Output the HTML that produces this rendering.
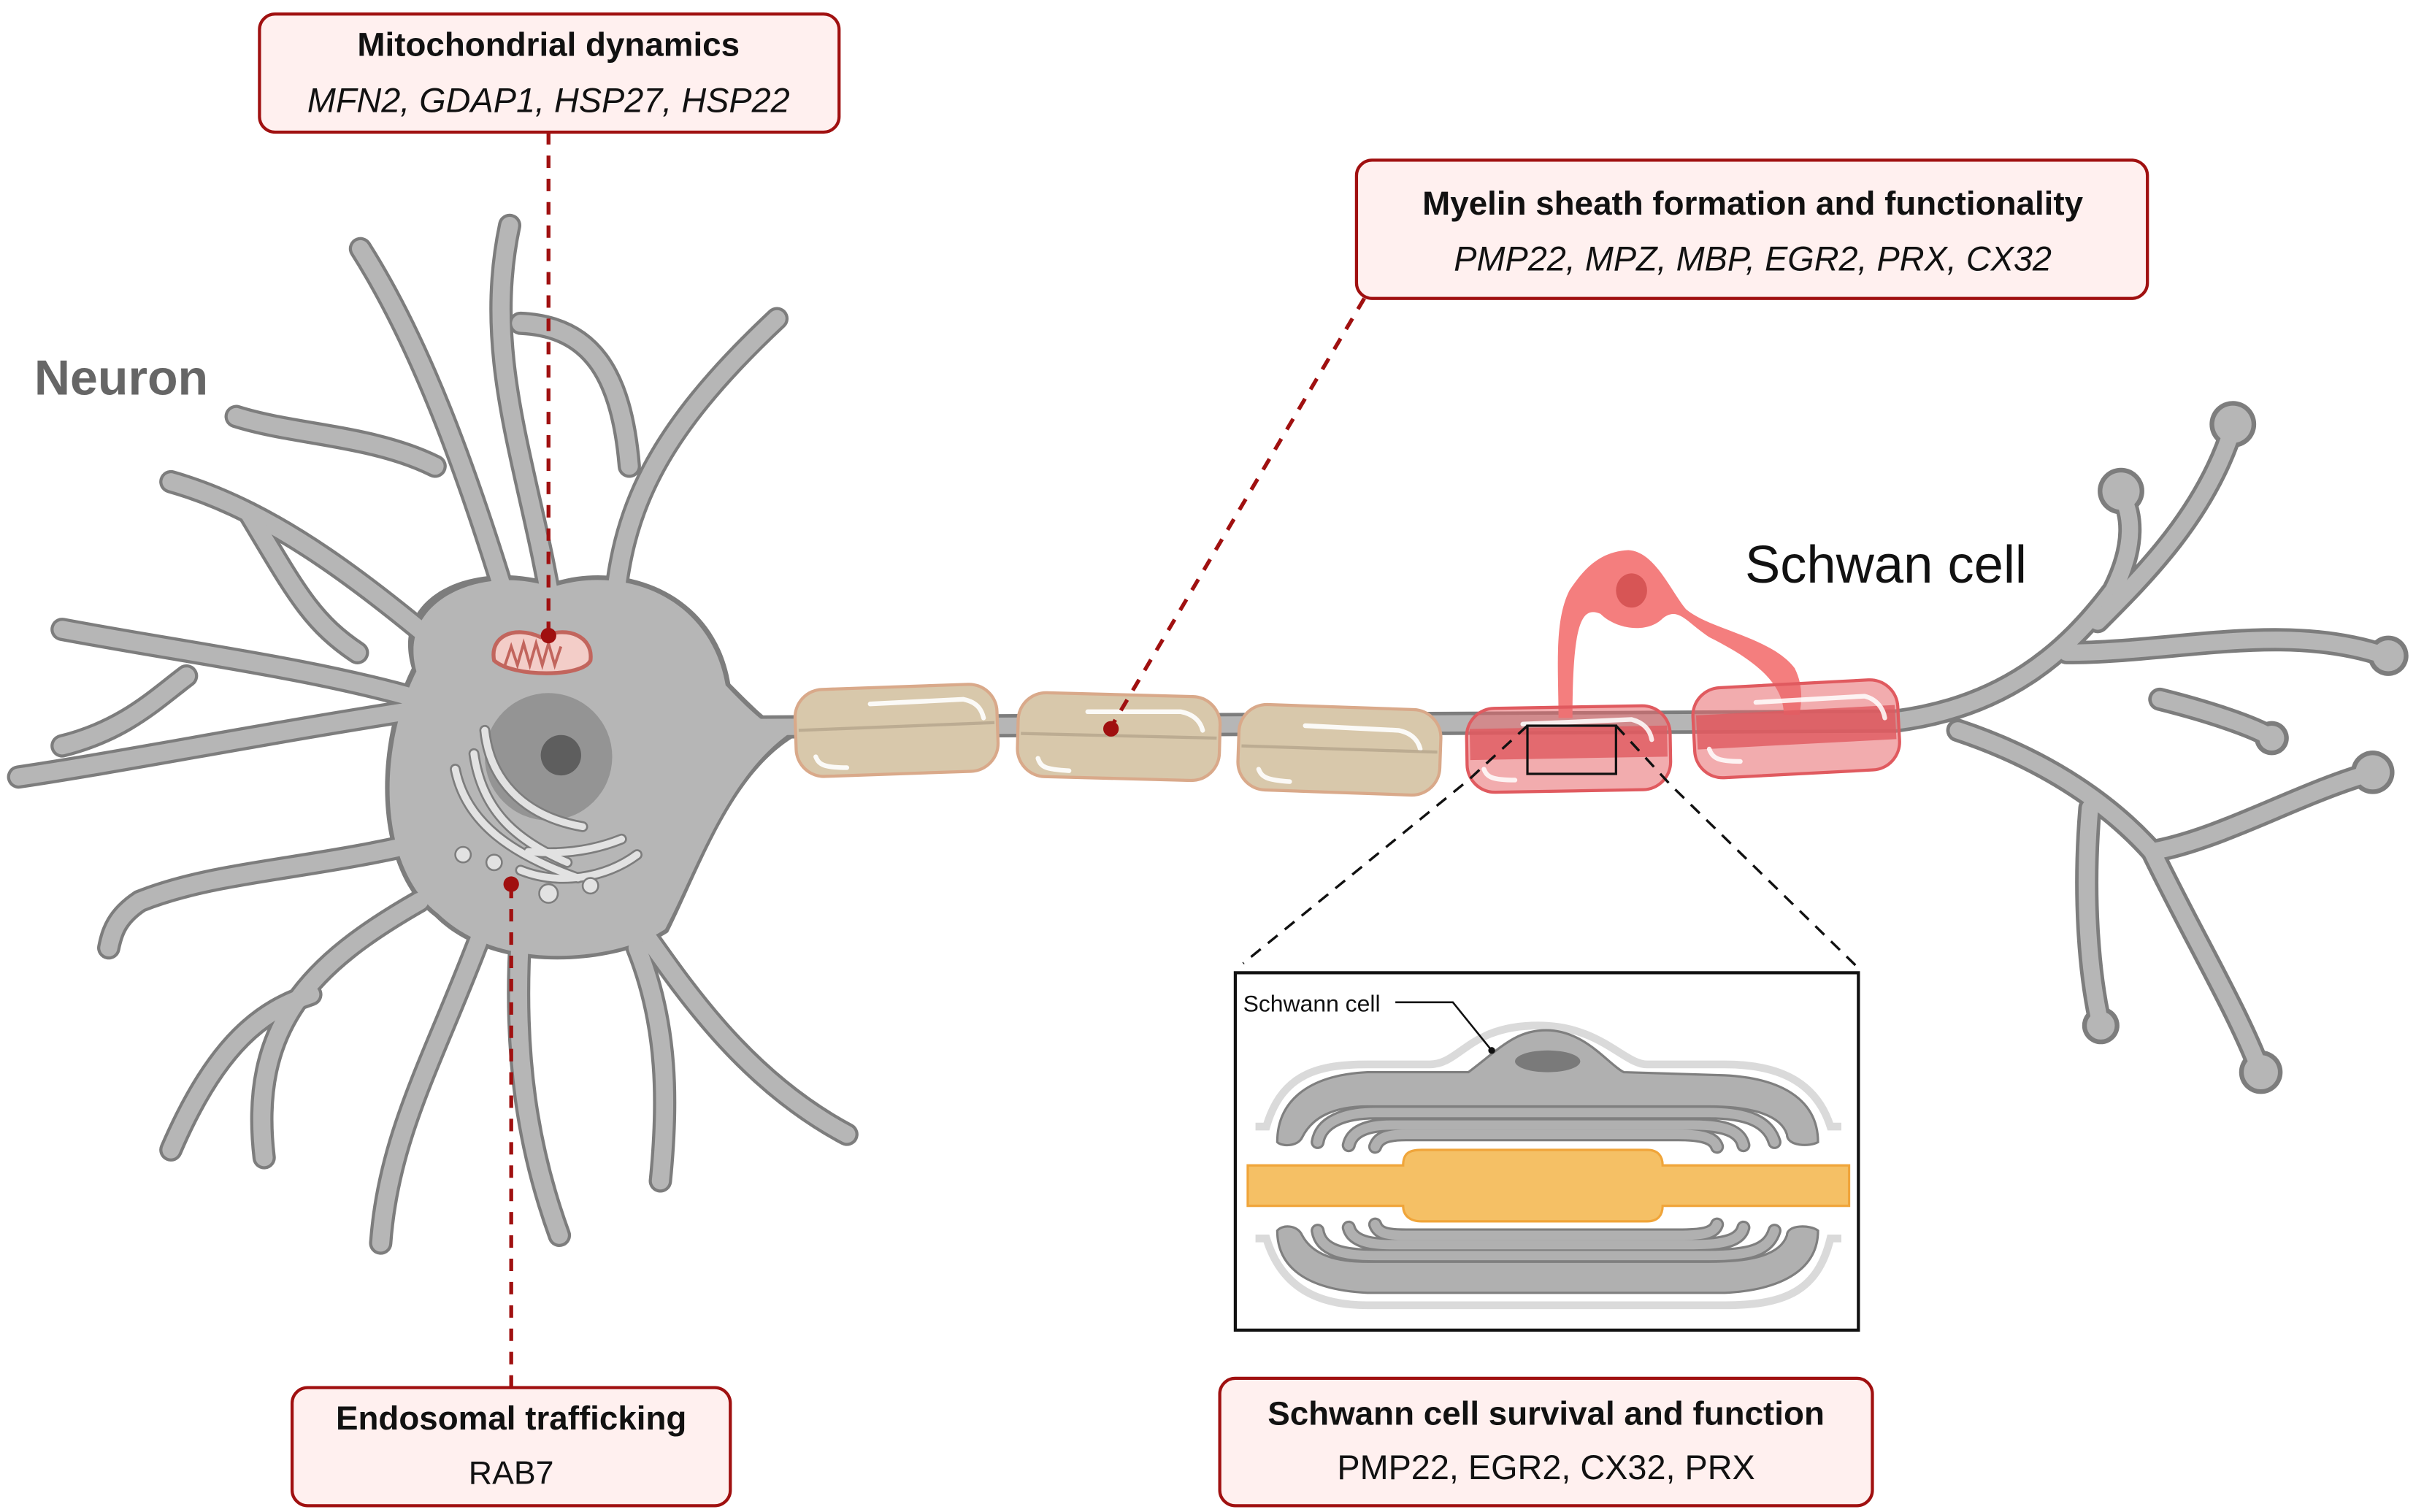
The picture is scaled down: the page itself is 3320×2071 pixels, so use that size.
<!DOCTYPE html>
<html><head><meta charset="utf-8"><style>
html,body{margin:0;padding:0;background:#fff;}
svg{display:block;}
text{font-family:"Liberation Sans",sans-serif;}
</style></head><body>
<svg width="3320" height="2071" viewBox="0 0 1560 973" xmlns="http://www.w3.org/2000/svg">
<defs>
<g id="dend">
<path d="M330,400 C300,300 270,220 232,160"/>
<path d="M280,300 C240,280 190,280 152,268"/>
<path d="M355,390 C340,300 310,230 328,145"/>
<path d="M395,395 C400,330 420,280 500,205"/>
<path d="M405,300 C400,240 380,210 335,208"/>
<path d="M300,430 C240,380 180,330 110,310"/>
<path d="M160,330 C190,380 200,400 230,420"/>
<path d="M270,450 C200,430 120,420 40,405"/>
<path d="M280,455 C180,470 80,490 12,500"/>
<path d="M120,435 C100,450 80,470 40,480"/>
<path d="M280,540 C200,560 140,560 90,580 C75,590 72,600 70,610"/>
<path d="M270,580 C200,620 160,660 170,745"/>
<path d="M200,640 C170,650 140,670 110,740"/>
<path d="M310,600 C280,680 250,730 245,800"/>
<path d="M335,600 C330,680 340,740 360,795"/>
<path d="M400,580 C430,620 470,690 545,730"/>
<path d="M410,610 C430,660 430,710 425,760"/>
</g>
<g id="term">
<path d="M460,468 L1220,464"/>
<path d="M1220,464 C1290,455 1330,420 1360,380 C1375,350 1372,330 1365,318"/>
<path d="M1350,400 C1380,370 1420,330 1437,275"/>
<path d="M1330,420 C1400,420 1470,400 1535,422"/>
<path d="M1390,450 C1430,460 1455,470 1462,475"/>
<path d="M1260,470 C1320,490 1360,520 1385,548 C1430,540 1480,510 1527,497"/>
<path d="M1385,548 C1410,600 1440,650 1455,690"/>
<path d="M1345,520 C1340,580 1345,630 1352,660"/>
</g>
</defs>
<g fill="none" stroke="#7d7d7d" stroke-linecap="round" stroke-width="15"><use href="#dend"/></g>
<g fill="none" stroke="#7d7d7d" stroke-linecap="round" stroke-width="15"><use href="#term"/></g>
<g fill="#7d7d7d">
<circle cx="1437" cy="273" r="15"/><circle cx="1365" cy="316" r="15"/><circle cx="1537" cy="422" r="13"/><circle cx="1527" cy="497" r="14"/><circle cx="1462" cy="475" r="11"/><circle cx="1455" cy="690" r="14"/><circle cx="1352" cy="660" r="12"/>
</g>
<path d="M265,430 C250,380 310,360 355,375 C400,360 460,380 470,440 C490,460 500,470 510,470 L510,475 C470,500 450,560 430,600 C400,620 320,630 280,590 C240,560 240,480 265,430 Z" fill="#7d7d7d"/>
<g fill="none" stroke="#b6b6b6" stroke-linecap="round" stroke-width="11"><use href="#dend"/></g>
<g fill="none" stroke="#b6b6b6" stroke-linecap="round" stroke-width="10.5"><use href="#term"/></g>
<g fill="#b6b6b6">
<circle cx="1437" cy="273" r="12"/><circle cx="1365" cy="316" r="12"/><circle cx="1537" cy="422" r="10"/><circle cx="1527" cy="497" r="11"/><circle cx="1462" cy="475" r="8"/><circle cx="1455" cy="690" r="11"/><circle cx="1352" cy="660" r="9"/>
</g>
<path d="M268,432 C255,385 312,363 355,378 C400,363 457,383 467,441 C487,462 497,470 508,472 C468,500 448,560 428,598 C398,618 322,627 282,588 C243,558 243,482 268,432 Z" fill="#b6b6b6"/>
<circle cx="353" cy="487" r="41" fill="#949494"/>
<circle cx="361" cy="486" r="13" fill="#5e5e5e"/>
<g fill="none" stroke="#7d7d7d" stroke-width="7" stroke-linecap="round">
<path d="M293,495 C300,530 330,550 372,565"/><path d="M305,485 C310,520 330,540 365,555"/><path d="M312,470 C315,500 335,525 375,532"/><path d="M335,560 C360,570 390,565 410,550"/><path d="M340,548 C360,550 380,548 400,540"/>
</g>
<g fill="none" stroke="#e2e2e2" stroke-width="4.5" stroke-linecap="round">
<path d="M293,495 C300,530 330,550 372,565"/><path d="M305,485 C310,520 330,540 365,555"/><path d="M312,470 C315,500 335,525 375,532"/><path d="M335,560 C360,570 390,565 410,550"/><path d="M340,548 C360,550 380,548 400,540"/>
</g>
<g fill="#e2e2e2" stroke="#7d7d7d" stroke-width="1.2"><circle cx="318" cy="555" r="5"/><circle cx="298" cy="550" r="5"/><circle cx="353" cy="575" r="6"/><circle cx="380" cy="570" r="5"/></g>
<path d="M318,425 C315,410 330,402 348,410 C366,402 382,410 380,425 C375,436 330,436 318,425 Z" fill="#f3cdc8" stroke="#c2655d" stroke-width="2.5"/>
<path d="M325,428 l4,-12 l4,12 l4,-14 l4,14 l4,-14 l4,14 l4,-14 l4,14 l4,-12" fill="none" stroke="#c2655d" stroke-width="1.8"/>
<g fill="#d8c8ab" stroke="#d9a98a" stroke-width="2">
<rect x="512" y="442" width="130" height="56" rx="18" transform="rotate(-2 577 470)"/>
<rect x="655" y="447" width="130" height="54" rx="18" transform="rotate(1.5 720 474)"/>
<rect x="797" y="455" width="130" height="55" rx="18" transform="rotate(2 862 482)"/>
</g>
<g fill="none" stroke="#fff" stroke-width="3" stroke-linecap="round" opacity="0.9">
<path d="M560,453 L620,450 C630,452 632,458 633,462"/><path d="M700,458 L760,458 C770,460 773,466 774,470"/><path d="M840,467 L900,470 C910,472 913,478 914,482"/>
<path d="M525,487 C527,492 530,494 545,494"/><path d="M668,488 C670,494 673,495 688,496"/><path d="M810,495 C812,500 815,502 830,503"/>
</g>
<g stroke="#b0a088" stroke-width="2" fill="none" opacity="0.7"><path d="M514,470 L640,465"/><path d="M657,472 L783,475"/><path d="M799,480 L925,484"/></g>
<path d="M1003,462 C1003,430 1000,400 1010,380 C1020,365 1030,355 1048,354 C1065,355 1075,380 1085,392 C1100,405 1140,410 1155,430 C1160,440 1160,450 1158,460 L1148,460 C1148,440 1130,425 1100,410 C1085,400 1080,390 1070,398 C1060,408 1040,405 1030,395 C1018,390 1012,400 1012,462 Z" fill="#f47e7e"/>
<ellipse cx="1050" cy="380" rx="10" ry="11" fill="#d75555"/>
<g fill="#e8676c" fill-opacity="0.55" stroke="#e05a5f" stroke-width="2">
<rect x="944" y="455" width="131" height="54" rx="18" transform="rotate(-1 1010 482)"/>
<rect x="1090" y="440" width="132" height="58" rx="18" transform="rotate(-3 1156 469)"/>
</g>
<g fill="#e05a60" opacity="0.8"><rect x="946" y="468" width="127" height="20" transform="rotate(-1 1010 478)"/><rect x="1092" y="457" width="128" height="22" transform="rotate(-3 1156 468)"/></g>
<g fill="none" stroke="#fff" stroke-width="3" stroke-linecap="round" opacity="0.85">
<path d="M980,466 L1050,463 C1058,465 1062,470 1063,476"/><path d="M1130,452 L1200,448 C1208,450 1212,456 1213,462"/>
<path d="M955,495 C957,500 960,502 975,502"/><path d="M1100,482 C1102,488 1106,490 1120,490"/>
</g>
<rect x="983" y="467" width="57" height="31" fill="none" stroke="#111" stroke-width="1.5"/>
<g stroke="#111" stroke-width="1.6" stroke-dasharray="8,6" fill="none">
<path d="M983,467 L945,502 L800,620"/><path d="M1040,467 L1075,505 L1195,622"/>
</g>
<rect x="795" y="626" width="401" height="230" fill="#fff" stroke="#111" stroke-width="2"/>
<path d="M808,725 L815,725 C825,690 850,685 880,685 L920,685 C940,685 945,660 990,660 C1030,660 1045,685 1060,685 L1110,685 C1150,685 1170,700 1178,725 L1185,725" fill="none" stroke="#dadada" stroke-width="5"/>
<path d="M808,797 L815,797 C825,830 850,840 880,840 L1110,840 C1150,840 1170,830 1178,797 L1185,797" fill="none" stroke="#dadada" stroke-width="5"/>
<path d="M945,690 C965,675 975,663 995,663 C1020,663 1035,685 1045,690 L1110,692 C1150,694 1170,710 1170,735 C1165,738 1150,738 1150,730 C1145,715 1120,712 1100,712 L880,712 C860,712 845,718 838,732 C835,738 825,738 822,735 C822,710 840,692 880,690 Z" fill="#b0b0b0" stroke="#7f7f7f" stroke-width="1.5"/>
<ellipse cx="996" cy="683" rx="21" ry="7" fill="#7a7a7a"/>
<g fill="none" stroke="#7f7f7f" stroke-width="9" stroke-linecap="round"><path d="M848,735 C850,722 865,716 885,716 L1100,716 C1125,716 1138,722 1142,735"/><path d="M868,737 C870,728 880,724 895,724 L1090,724 C1110,724 1120,728 1122,737"/><path d="M885,738 C887,732 893,730 905,730 L1080,730 C1095,730 1103,732 1105,738"/></g>
<g fill="none" stroke="#b0b0b0" stroke-width="6" stroke-linecap="round"><path d="M848,735 C850,722 865,716 885,716 L1100,716 C1125,716 1138,722 1142,735"/><path d="M868,737 C870,728 880,724 895,724 L1090,724 C1110,724 1120,728 1122,737"/><path d="M885,738 C887,732 893,730 905,730 L1080,730 C1095,730 1103,732 1105,738"/></g>
<path d="M822,792 C822,815 840,830 880,832 L1110,832 C1150,830 1170,815 1170,792 C1165,788 1150,788 1150,795 C1145,810 1120,812 1100,812 L880,812 C860,812 845,808 838,795 C835,788 825,788 822,792 Z" fill="#b0b0b0" stroke="#7f7f7f" stroke-width="1.5"/>
<g fill="none" stroke="#7f7f7f" stroke-width="9" stroke-linecap="round"><path d="M848,792 C850,805 865,808 885,808 L1100,808 C1125,808 1138,805 1142,792"/><path d="M868,790 C870,798 880,801 895,801 L1090,801 C1110,801 1120,798 1122,790"/><path d="M885,788 C887,794 893,795 905,795 L1080,795 C1095,795 1103,794 1105,788"/></g>
<g fill="none" stroke="#b0b0b0" stroke-width="6" stroke-linecap="round"><path d="M848,792 C850,805 865,808 885,808 L1100,808 C1125,808 1138,805 1142,792"/><path d="M868,790 C870,798 880,801 895,801 L1090,801 C1110,801 1120,798 1122,790"/><path d="M885,788 C887,794 893,795 905,795 L1080,795 C1095,795 1103,794 1105,788"/></g>
<path d="M803,750 L903,750 C903,742 907,740 915,740 L1060,740 C1067,740 1070,744 1070,750 L1190,750 L1190,776 L1070,776 C1070,782 1067,786 1060,786 L915,786 C907,786 903,782 903,776 L803,776 Z" fill="#f5c065" stroke="#f0a53a" stroke-width="1.5"/>
<text x="800" y="651" font-size="15" fill="#111">Schwann cell</text>
<path d="M898,645 L935,645 L960,676" fill="none" stroke="#111" stroke-width="1.2"/>
<circle cx="960" cy="676" r="2.2" fill="#111"/>
<g stroke="#a01010" stroke-width="2.5" stroke-dasharray="8,7" fill="none">
<path d="M353,85 L353,408"/><path d="M878,192 L715,468"/><path d="M329,893 L329,570"/>
</g>
<g fill="#a01010"><circle cx="353" cy="409" r="5"/><circle cx="715" cy="469" r="5"/><circle cx="329" cy="569" r="5"/></g>
<g fill="#fff0ef" stroke="#a01010" stroke-width="2">
<rect x="167" y="9" width="373" height="76" rx="10"/>
<rect x="873" y="103" width="509" height="89" rx="10"/>
<rect x="188" y="893" width="282" height="76" rx="10"/>
<rect x="785" y="887" width="420" height="82" rx="10"/>
</g>
<g text-anchor="middle" fill="#111">
<text x="353" y="36" font-size="21.5" font-weight="bold">Mitochondrial dynamics</text>
<text x="353" y="72" font-size="22" font-style="italic">MFN2, GDAP1, HSP27, HSP22</text>
<text x="1128" y="138" font-size="21.5" font-weight="bold">Myelin sheath formation and functionality</text>
<text x="1128" y="174" font-size="22" font-style="italic">PMP22, MPZ, MBP, EGR2, PRX, CX32</text>
<text x="329" y="920" font-size="21.5" font-weight="bold">Endosomal trafficking</text>
<text x="329" y="955" font-size="21">RAB7</text>
<text x="995" y="917" font-size="21.5" font-weight="bold">Schwann cell survival and function</text>
<text x="995" y="952" font-size="22">PMP22, EGR2, CX32, PRX</text>
</g>
<text x="22" y="254" font-size="32" font-weight="bold" fill="#666">Neuron</text>
<text x="1123" y="375" font-size="34" fill="#111">Schwan cell</text>
</svg>
</body></html>
